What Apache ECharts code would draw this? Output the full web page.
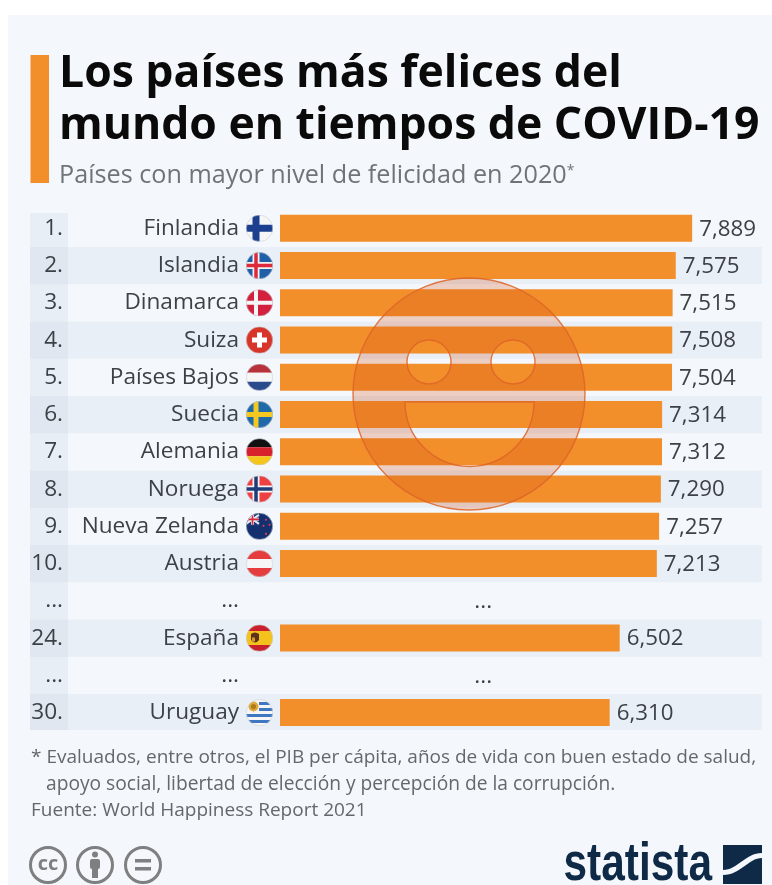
<!DOCTYPE html>
<html><head><meta charset="utf-8">
<style>html,body{margin:0;padding:0;background:#fff}#c{width:772px;height:885px}</style>
<script src="https://cdn.jsdelivr.net/npm/echarts@6/dist/echarts.min.js"></script>
</head><body><div id="c"></div>
<script>
const titleText = 'Los países más felices del\nmundo en tiempos de COVID-19';
const subtitleText = 'Países con mayor nivel de felicidad en 2020{s|*}';
const ranks = ['1.','2.','3.','4.','5.','6.','7.','8.','9.','10.','...','24.','...','30.'];
const countries = ['Finlandia','Islandia','Dinamarca','Suiza','Países Bajos','Suecia','Alemania','Noruega','Nueva Zelanda','Austria','...','España','...','Uruguay'];
const values = [7.889,7.575,7.515,7.508,7.504,7.314,7.312,7.290,7.257,7.213,null,6.502,null,6.310];
const flagKeys = ['fi','is','dk','ch','nl','se','de','no','nz','at',null,'es',null,'uy'];
const footnote1 = '* Evaluados, entre otros, el PIB per cápita, años de vida con buen estado de salud,';
const footnote2 = 'apoyo social, libertad de elección y percepción de la corrupción.';
const sourceText = 'Fuente: World Happiness Report 2021';

const R=(x,y,w,h,c)=>`<rect x="${x}" y="${y}" width="${w}" height="${h}" fill="${c}"/>`;
const nordic=(bg,c,w,inner,iw)=>R(0,0,27,27,bg)+R(0,13.5-w/2,27,w,c)+R(10-w/2,0,w,27,c)+(inner?R(0,13.5-iw/2,27,iw,inner)+R(10-iw/2,0,iw,27,inner):'');
const flagArt={
 fi:nordic('#f6f6f6','#1c3f8f',7),
 is:nordic('#1f5fa8','#f2f2f2',7,'#dc2a3c',3.5),
 dk:nordic('#d3203f','#f6f6f6',4),
 ch:R(0,0,27,27,'#d8352a')+R(11,6,5,15,'#fff')+R(6,11,15,5,'#fff'),
 nl:R(0,0,27,9,'#b8323c')+R(0,9,27,9,'#f6f6f6')+R(0,18,27,9,'#2b4a8b'),
 se:nordic('#1f6aa8','#f4c81e',5),
 de:R(0,0,27,9,'#111')+R(0,9,27,9,'#d8202c')+R(0,18,27,9,'#f6c51c'),
 no:nordic('#ee3f42','#f4f4f4',7,'#1f3c78',3.5),
 nz:R(0,0,27,27,'#14306e')+R(0,0,13,13,'#1c3a7a')+'<path d="M0 2L13 11M0 11L13 2" stroke="#e8e8f0" stroke-width="2"/><path d="M6.5 1V12M0 6.5H13" stroke="#e8e8f0" stroke-width="3"/><path d="M6.5 1V12M0 6.5H13" stroke="#d8283c" stroke-width="1.6"/><circle cx="20" cy="7" r="1" fill="#e8404c"/><circle cx="23.5" cy="12" r="1" fill="#e8404c"/><circle cx="17.5" cy="13" r="1" fill="#e8404c"/><circle cx="20" cy="21" r="1.1" fill="#e8404c"/>',
 at:R(0,0,27,9,'#e53d3d')+R(0,9,27,9,'#f6f6f6')+R(0,18,27,9,'#e53d3d'),
 es:R(0,0,27,27,'#f4c21c')+R(0,0,27,6.5,'#c8202c')+R(0,20.5,27,6.5,'#c8202c')+'<path d="M5 9.5q4-3 8 0v6q-4 5-8 0z" fill="#5c3218"/><rect x="6" y="13" width="3" height="4" fill="#d89a30"/>',
 uy:R(0,0,27,27,'#f6f6f6')+R(13,3,14,3,'#3f78c0')+R(13,9,14,3,'#3f78c0')+R(0,15,27,3,'#3f78c0')+R(0,21,27,3,'#3f78c0')+'<circle cx="7.5" cy="7.5" r="5" fill="#e0a93c"/><circle cx="7.5" cy="7.5" r="2.6" fill="#b07a20"/>'
};
const flagUri=k=>'data:image/svg+xml;charset=utf-8,'+encodeURIComponent(`<svg xmlns="http://www.w3.org/2000/svg" width="54" height="54" viewBox="0 0 27 27"><defs><clipPath id="a"><circle cx="13.5" cy="13.5" r="13.3"/></clipPath></defs><g clip-path="url(#a)">${flagArt[k]}</g><circle cx="13.5" cy="13.5" r="13.2" fill="none" stroke="#c9ced4" stroke-width="0.6"/></svg>`);

const FONT='"Open Sans"', TXT='#3d4146', ICON='#7d7f80', NAVY='#0f2a46';
const rich={n:{fontFamily:FONT,fontSize:22.6,color:TXT},g:{width:7,fontSize:10},blank:{width:27,height:27,fontSize:10}};
Object.keys(flagArt).forEach(k=>{rich[k]={width:27,height:27,fontSize:10,backgroundColor:{image:flagUri(k)}};});

const gapX=3.89; // the "..." in the value column
const chart=echarts.init(document.getElementById('c'),null,{renderer:'canvas'});
chart.setOption({
 animation:false,
 backgroundColor:'#ffffff',
 title:{text:titleText,subtext:subtitleText,left:54,top:44,itemGap:9,
  textStyle:{fontFamily:FONT,fontSize:44.5,fontWeight:'bold',color:'#0a0a0a',lineHeight:51.5},
  subtextStyle:{fontFamily:FONT,fontSize:25.2,color:'#6f7478',lineHeight:30,
   rich:{s:{fontFamily:FONT,fontSize:14,color:'#6f7478',padding:[0,0,10,0]}}}},
 grid:{left:280,top:209.7,width:470.2,height:521.5,containLabel:false},
 xAxis:{type:'value',min:0,max:9,show:false},
 yAxis:[
  {type:'category',inverse:true,data:countries,axisLine:{show:false},axisTick:{show:false},
   axisLabel:{margin:7,rich,interval:0,formatter:(v,i)=>`{n|${v}}{g| }{${flagKeys[i]||'blank'}| }`}},
  {type:'category',inverse:true,data:ranks,position:'left',offset:217,axisLine:{show:false},axisTick:{show:false},
   axisLabel:{margin:0,interval:0,fontFamily:FONT,fontSize:22.6,color:TXT,padding:[8,0,0,0]}}
 ],
 series:[
  {type:'custom',z:0,silent:true,yAxisIndex:0,encode:{x:0,y:1},data:countries.map((_,i)=>[0,i]),
   renderItem(p,api){
    const i=api.value(1),c=api.coord([0,i]),h=api.size([0,1])[1];
    const top=Math.max(c[1]-h/2,213),bot=Math.min(c[1]+h/2,730);
    const ch=[];
    if(i%2===1)ch.push({type:'rect',shape:{x:30,y:top,width:732,height:bot-top},style:{fill:'#e9eff6'}});
    ch.push({type:'rect',shape:{x:30,y:top,width:38,height:bot-top},style:{fill:'rgba(190,205,225,0.22)'}});
    if(countries[i]==='...'){const t=api.coord([gapX,i]);ch.push({type:'text',x:t[0],y:t[1]+1,style:{text:'...',font:'22.6px "Open Sans"',fill:TXT,align:'center',verticalAlign:'middle'}});}
    return {type:'group',children:ch};
   }},
  {type:'bar',z:2,yAxisIndex:0,data:values,barWidth:27,itemStyle:{color:'#f28f2a'},
   label:{show:true,position:'right',distance:7,offset:[0,1],fontFamily:FONT,fontSize:22.3,color:TXT,
    formatter:p=>p.value==null?'':p.value.toFixed(3).replace('.',',')}},
  {type:'custom',z:50,silent:true,yAxisIndex:0,encode:{x:0,y:1},data:[[0,0]],
   renderItem(){
    return {type:'group',children:[
     {type:'path',shape:{pathData:'M353 394A116 116 0 1 1 585 394A116 116 0 1 1 353 394Z'
      +'M451 362A22 22 0 1 0 407 362A22 22 0 1 0 451 362Z'
      +'M535 362A22 22 0 1 0 491 362A22 22 0 1 0 535 362Z'
      +'M534 402L405 402A64.5 64.5 0 0 0 534 402Z',x:353,y:278,width:232,height:232,layout:'cover'},
      style:{fill:'rgba(210,80,23,0.25)',stroke:'rgba(222,100,40,0.85)',lineWidth:1.4}},
     {type:'path',shape:{pathData:'M723 870C738 870 745 853 762 853L762 858C748 858 741 875 723 875Z',x:723,y:853,width:39,height:22,layout:'cover'},
      style:{fill:'#f4f8fc'}}
    ]};
   }}
 ],
 graphic:{elements:[
  {type:'rect',z:-10,shape:{x:8,y:15,width:764,height:870},style:{fill:'#f4f8fc'},silent:true},
  {type:'rect',z:1,shape:{x:30.5,y:55,width:18.5,height:128},style:{fill:'#f28f2a'},silent:true},
  {type:'text',z:5,x:31,y:758,style:{text:footnote1,font:'19px "Open Sans"',fill:'#63686d',verticalAlign:'middle'}},
  {type:'text',z:5,x:46,y:785,style:{text:footnote2,font:'19.2px "Open Sans"',fill:'#63686d',verticalAlign:'middle'}},
  {type:'text',z:5,x:31,y:811,style:{text:sourceText,font:'19px "Open Sans"',fill:'#63686d',verticalAlign:'middle'}},
  {type:'circle',z:5,shape:{cx:48,cy:865,r:17.5},style:{fill:'none',stroke:ICON,lineWidth:3}},
  {type:'text',z:5,x:48,y:864,style:{text:'cc',font:'bold 20px "Open Sans"',fill:ICON,align:'center',verticalAlign:'middle'}},
  {type:'circle',z:5,shape:{cx:95,cy:865,r:17.5},style:{fill:'none',stroke:ICON,lineWidth:3}},
  {type:'circle',z:5,shape:{cx:95,cy:854.5,r:3},style:{fill:ICON}},
  {type:'rect',z:5,shape:{x:90,y:859,width:10,height:10,r:2},style:{fill:ICON}},
  {type:'rect',z:5,shape:{x:92,y:868,width:6,height:10},style:{fill:ICON}},
  {type:'circle',z:5,shape:{cx:143,cy:865,r:17.5},style:{fill:'none',stroke:ICON,lineWidth:3}},
  {type:'rect',z:5,shape:{x:135,y:859,width:16,height:3.5},style:{fill:ICON}},
  {type:'rect',z:5,shape:{x:135,y:867,width:16,height:3.5},style:{fill:ICON}},
  {type:'text',z:5,x:712,y:892,scaleX:0.8,style:{text:'statista',font:'bold 53px "Liberation Sans"',fill:NAVY,align:'right',verticalAlign:'bottom'}},
  {type:'rect',z:5,shape:{x:723,y:845,width:39,height:39},style:{fill:NAVY}}
 ]}
});
</script></body></html>
